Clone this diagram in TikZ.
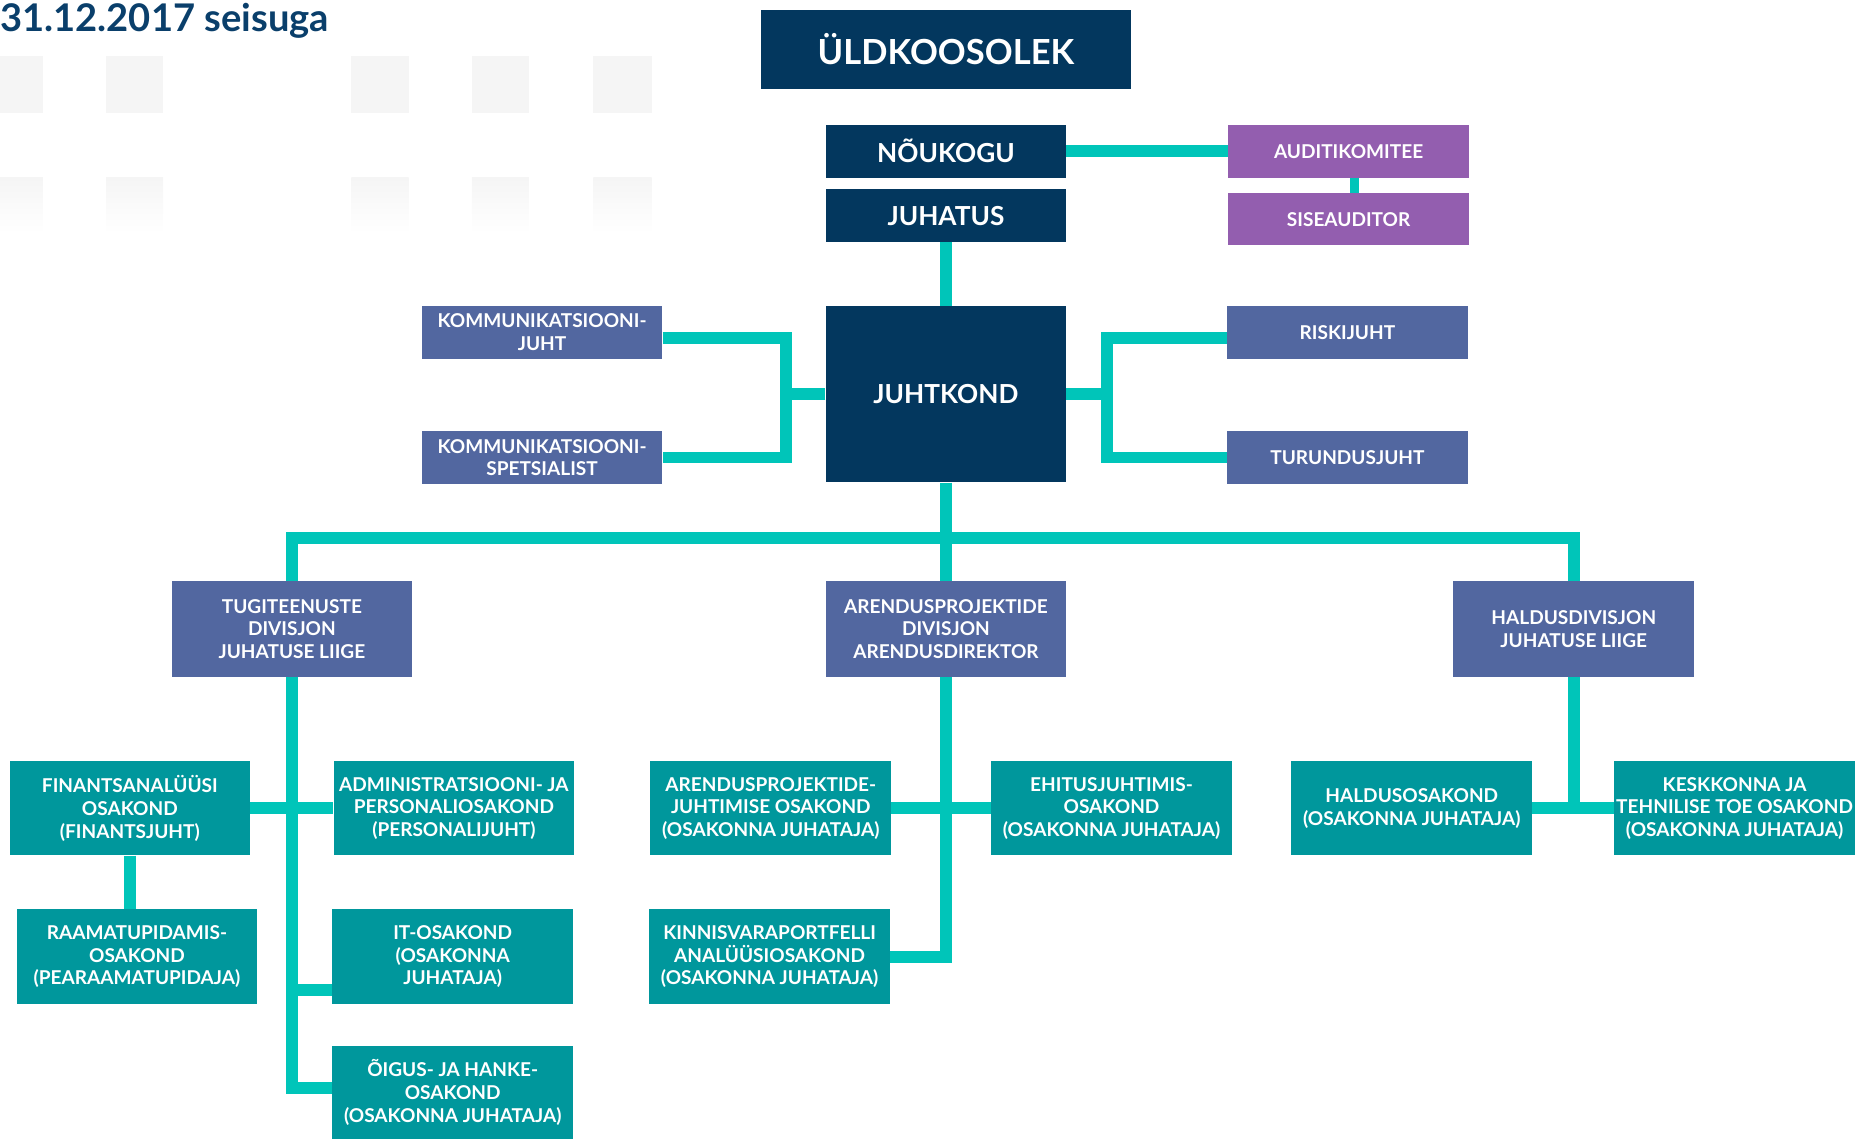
\documentclass[tikz,border=0pt]{standalone}
\usepackage{fontspec}
\setmainfont{Lato}
\definecolor{navy}{HTML}{03375E}
\definecolor{slate}{HTML}{5267A0}
\definecolor{purp}{HTML}{935EAF}
\definecolor{teal}{HTML}{00979C}
\definecolor{conncol}{HTML}{00C5B9}
\definecolor{titleblue}{HTML}{0A3F6B}
\definecolor{tile}{HTML}{F5F5F5}
\tikzset{
  box/.style={rectangle, inner sep=0pt, text=white, align=center,
    minimum width=202, minimum height=44,
    font=\bfseries\fontsize{16}{19}\selectfont},
  navybox/.style={box, fill=navy, font=\bfseries\fontsize{22}{26}\selectfont},
  slatebox/.style={box, fill=slate},
  purpbox/.style={box, fill=purp},
  deptbox/.style={box, fill=teal, minimum height=79},
  divbox/.style={box, fill=slate, minimum height=80},
  conn/.style={draw=conncol, line width=10pt, line join=miter},
}
\begin{document}
\begin{tikzpicture}[x=1pt,y=-1pt]
\useasboundingbox (0,0) rectangle (1568,956);
% decorative tiles
\foreach \a/\b in {0/36, 89/137, 295/343, 396/444, 498/547}{
  \fill[tile] (\a,47) rectangle (\b,95);
  \shade[top color=tile, bottom color=white] (\a,149) rectangle (\b,196);
}
\node[anchor=base west, inner sep=0pt, text=titleblue,
  font=\bfseries\fontsize{32}{38}\selectfont] (title) at (0,26.5) {31.12.2017 seisuga};

% top
\node[navybox, minimum width=310, minimum height=67,
  font=\bfseries\fontsize{29}{33}\selectfont] (uld) at (794,41.5) {ÜLDKOOSOLEK};
\node[navybox] (nou) at (794,127) {NÕUKOGU};
\node[navybox] (juh) at (794,181) {JUHATUS};
\node[purpbox] (aud) at (1132,127) {AUDITIKOMITEE};
\node[purpbox] (sise) at (1132,184) {SISEAUDITOR};
\node[navybox, minimum height=148] (jk) at (794,331) {JUHTKOND};
\node[slatebox] (kj) at (455,279) {KOMMUNIKATSIOONI-\\JUHT};
\node[slatebox] (ks) at (455,384) {KOMMUNIKATSIOONI-\\SPETSIALIST};
\node[slatebox] (rj) at (1131,279) {RISKIJUHT};
\node[slatebox] (tj) at (1131,384) {TURUNDUSJUHT};
% divisions
\node[divbox] (tug) at (245,528) {TUGITEENUSTE\\DIVISJON\\JUHATUSE LIIGE};
\node[divbox] (are) at (794,528) {ARENDUSPROJEKTIDE\\DIVISJON\\ARENDUSDIREKTOR};
\node[divbox] (hal) at (1321,528) {HALDUSDIVISJON\\JUHATUSE LIIGE};
% departments
\node[deptbox] (fin) at (109,678.5) {FINANTSANALÜÜSI\\OSAKOND\\(FINANTSJUHT)};
\node[deptbox, minimum height=80] (raa) at (115,803) {RAAMATUPIDAMIS-\\OSAKOND\\(PEARAAMATUPIDAJA)};
\node[deptbox] (adm) at (381,678.5) {ADMINISTRATSIOONI- JA\\PERSONALIOSAKOND\\(PERSONALIJUHT)};
\node[deptbox, minimum height=80] (it) at (380,803) {IT-OSAKOND\\(OSAKONNA\\JUHATAJA)};
\node[deptbox, minimum height=78] (oig) at (380,917) {ÕIGUS- JA HANKE-\\OSAKOND\\(OSAKONNA JUHATAJA)};
\node[deptbox] (ajo) at (647,678.5) {ARENDUSPROJEKTIDE-\\JUHTIMISE OSAKOND\\(OSAKONNA JUHATAJA)};
\node[deptbox, minimum height=80] (kin) at (646,803) {KINNISVARAPORTFELLI\\ANALÜÜSIOSAKOND\\(OSAKONNA JUHATAJA)};
\node[deptbox] (ehi) at (933,678.5) {EHITUSJUHTIMIS-\\OSAKOND\\(OSAKONNA JUHATAJA)};
\node[deptbox] (hos) at (1185,678.5) {HALDUSOSAKOND\\(OSAKONNA JUHATAJA)};
\node[deptbox] (kes) at (1456,678.5) {KESKKONNA JA\\TEHNILISE TOE OSAKOND\\(OSAKONNA JUHATAJA)};

% connectors
\draw[conn] (nou.east) -- (aud.west);
\draw[conn, line width=8pt] ([xshift=5pt]aud.south) -- ([xshift=5pt]sise.north);
\draw[conn] (juh.south) -- (jk.north);
\coordinate (lb) at (660,331);
\draw[conn] ([yshift=-5pt]kj.east) -| (lb) |- (ks.east);
\draw[conn] (jk.west) -- (lb);
\coordinate (rb) at (929,331);
\draw[conn] ([yshift=-5pt]rj.west) -| (rb) |- (tj.west);
\draw[conn] (jk.east) -- (rb);
\coordinate (bus) at (794,451.5);
\draw[conn] (tug.north) |- (bus) -| (hal.north);
\draw[conn] (jk.south) -- (are.north);
% tugiteenuste
\draw[conn] (tug.south) |- ([yshift=4pt]oig.west);
\draw[conn] (fin.east) -- (adm.west);
\coordinate (itj) at (245,831);
\draw[conn] (itj) -- (itj -| it.west);
\draw[conn] (fin.south) -- (fin.south |- raa.north);
% arendus
\draw[conn] (are.south) |- (kin.east);
\draw[conn] (ajo.east) -- (ehi.west);
% haldus
\draw[conn] (hal.south) -- (hal.south |- hos.east);
\draw[conn] (hos.east) -- (kes.west);
\end{tikzpicture}
\end{document}
